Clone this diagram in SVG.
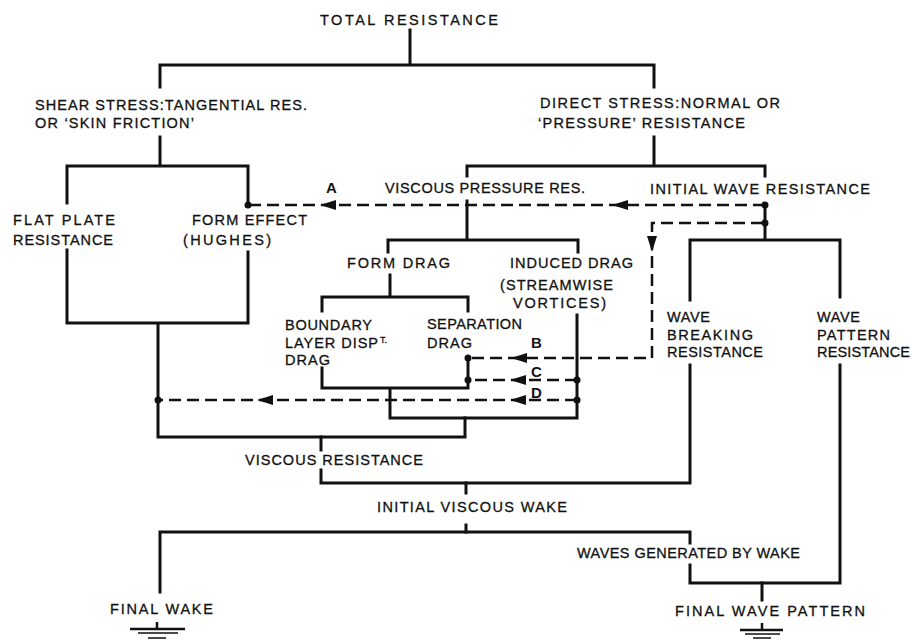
<svg xmlns="http://www.w3.org/2000/svg" xmlns:xlink="http://www.w3.org/1999/xlink" width="912" height="641" viewBox="0 0 912 641">
<style>
.t{font-family:"Liberation Sans",Arial,sans-serif;font-size:14.5px;fill:#111;stroke:#111;stroke-width:0.3;}
.L{font-family:"Liberation Sans",Arial,sans-serif;font-size:15px;font-weight:bold;fill:#111;}
.s{fill:none;stroke:#111;stroke-width:3;stroke-linecap:square;stroke-linejoin:miter;}
.d{fill:none;stroke:#111;stroke-width:2.5;stroke-dasharray:12 6;}
.g{stroke:#111;fill:none;}
.dot{fill:#111;}
</style>
<defs>
<path id="ah" d="M0,0 L16,-5 L16,5 Z" fill="#111"/>
</defs>
<rect width="912" height="641" fill="#fff"/>

<g id="connectors">
  <path class="s" d="M410,30 V65 M160,87 V65 H654 V87"/>
  <path class="s" d="M160,137 V166 M67,203 V166 H248 V205"/>
  <path class="s" d="M654,137 V166 M467,176 V166 H765 V176"/>
  <path class="s" d="M467,201 V240 M388,252 V240 H578 V252"/>
  <path class="s" d="M390,275 V297 M322,311 V297 H468 V311"/>
  <path class="s" d="M577,315 V418 H390 V388 M322,368 V388 H468 V358"/>
  <path class="s" d="M465,418 V437 H158 V323 M67,250 V323 H248 V252"/>
  <path class="s" d="M321,437 V450 M321,470 V483 H690 V365"/>
  <path class="s" d="M765,205 V240 M690,300 V240 H840 V297"/>
  <path class="s" d="M840,365 V583 H690 V565 M690,543 V532 H160 V592"/>
  <path class="s" d="M466,483 V493 M466,525 V532 M762,583 V600"/>
  <path class="d" d="M765,205 H248"/>
  <path class="d" d="M763,223 H652 V358 H468"/>
  <path class="d" d="M577,380 H468"/>
  <path class="d" d="M577,400 H158"/>
  <use xlink:href="#ah" x="320" y="205"/>
  <use xlink:href="#ah" x="612" y="205"/>
  <use xlink:href="#ah" transform="translate(652,252) rotate(-90)"/>
  <use xlink:href="#ah" x="511" y="358"/>
  <use xlink:href="#ah" x="510" y="380"/>
  <use xlink:href="#ah" x="510" y="400"/>
  <use xlink:href="#ah" x="257" y="400"/>
  <circle class="dot" cx="248" cy="205" r="3.5"/>
  <circle class="dot" cx="765" cy="205" r="3.5"/>
  <circle class="dot" cx="765" cy="223" r="3.5"/>
  <circle class="dot" cx="468" cy="358" r="3.5"/>
  <circle class="dot" cx="468" cy="380" r="3.5"/>
  <circle class="dot" cx="577" cy="380" r="3.5"/>
  <circle class="dot" cx="577" cy="400" r="3.5"/>
  <circle class="dot" cx="158" cy="400" r="3.5"/>
  <text class="L" x="326" y="193">A</text>
  <text class="L" x="531" y="348">B</text>
  <text class="L" x="531" y="377">C</text>
  <text class="L" x="531" y="398">D</text>
</g>

<g id="total"><text class="t" x="320" y="25" textLength="178" lengthAdjust="spacing">TOTAL RESISTANCE</text></g>
<g id="shear">
  <text class="t" x="35" y="110" textLength="272" lengthAdjust="spacing">SHEAR STRESS:TANGENTIAL RES.</text>
  <text class="t" x="35" y="128" textLength="159" lengthAdjust="spacing">OR ‘SKIN FRICTION’</text>
</g>
<g id="direct">
  <text class="t" x="540" y="108" textLength="240" lengthAdjust="spacing">DIRECT STRESS:NORMAL OR</text>
  <text class="t" x="538" y="128" textLength="207" lengthAdjust="spacing">‘PRESSURE’ RESISTANCE</text>
</g>
<g id="viscous-pressure"><text class="t" x="385" y="193" textLength="200" lengthAdjust="spacing">VISCOUS PRESSURE RES.</text></g>
<g id="initial-wave"><text class="t" x="650" y="194" textLength="220" lengthAdjust="spacing">INITIAL WAVE RESISTANCE</text></g>
<g id="flat-plate">
  <text class="t" x="13" y="225" textLength="102" lengthAdjust="spacing">FLAT PLATE</text>
  <text class="t" x="13" y="245" textLength="100" lengthAdjust="spacing">RESISTANCE</text>
</g>
<g id="form-effect">
  <text class="t" x="192" y="225" textLength="115" lengthAdjust="spacing">FORM EFFECT</text>
  <text class="t" x="183" y="245" textLength="88" lengthAdjust="spacing">(HUGHES)</text>
</g>
<g id="form-drag"><text class="t" x="347" y="268" textLength="103" lengthAdjust="spacing">FORM DRAG</text></g>
<g id="induced-drag">
  <text class="t" x="510" y="268" textLength="123" lengthAdjust="spacing">INDUCED DRAG</text>
  <text class="t" x="500" y="290" textLength="113" lengthAdjust="spacing">(STREAMWISE</text>
  <text class="t" x="513" y="308" textLength="93" lengthAdjust="spacing">VORTICES)</text>
</g>
<g id="boundary-layer">
  <text class="t" x="285" y="330" textLength="87" lengthAdjust="spacing">BOUNDARY</text>
  <text class="t" x="285" y="348" textLength="93" lengthAdjust="spacing">LAYER DISP</text>
  <text class="t" x="380" y="343" style="font-size:9px">T.</text>
  <text class="t" x="285" y="365" textLength="45" lengthAdjust="spacing">DRAG</text>
</g>
<g id="separation">
  <text class="t" x="427" y="329" textLength="95" lengthAdjust="spacing">SEPARATION</text>
  <text class="t" x="427" y="348" textLength="45" lengthAdjust="spacing">DRAG</text>
</g>
<g id="wave-breaking">
  <text class="t" x="667" y="322" textLength="43" lengthAdjust="spacing">WAVE</text>
  <text class="t" x="667" y="340" textLength="86" lengthAdjust="spacing">BREAKING</text>
  <text class="t" x="667" y="357" textLength="96" lengthAdjust="spacing">RESISTANCE</text>
</g>
<g id="wave-pattern">
  <text class="t" x="817" y="322" textLength="43" lengthAdjust="spacing">WAVE</text>
  <text class="t" x="817" y="340" textLength="73" lengthAdjust="spacing">PATTERN</text>
  <text class="t" x="817" y="357" textLength="93" lengthAdjust="spacing">RESISTANCE</text>
</g>
<g id="viscous-resistance"><text class="t" x="245" y="465" textLength="178" lengthAdjust="spacing">VISCOUS RESISTANCE</text></g>
<g id="initial-viscous-wake"><text class="t" x="377" y="512" textLength="190" lengthAdjust="spacing">INITIAL VISCOUS WAKE</text></g>
<g id="waves-by-wake"><text class="t" x="577" y="558" textLength="223" lengthAdjust="spacing">WAVES GENERATED BY WAKE</text></g>
<g id="final-wake">
  <text class="t" x="110" y="614" textLength="103" lengthAdjust="spacing">FINAL WAKE</text>
  <path class="g" stroke-width="2.5" d="M157,622 V629 M130,629 H185"/>
  <path class="g" stroke-width="1.5" d="M138,633 H178 M148,638 H166"/>
</g>
<g id="final-wave-pattern">
  <text class="t" x="675" y="616" textLength="190" lengthAdjust="spacing">FINAL WAVE PATTERN</text>
  <path class="g" stroke-width="2.5" d="M762,623 V630 M740,630 H783"/>
  <path class="g" stroke-width="1.5" d="M745,634 H780 M753,638 H771"/>
</g>
</svg>
